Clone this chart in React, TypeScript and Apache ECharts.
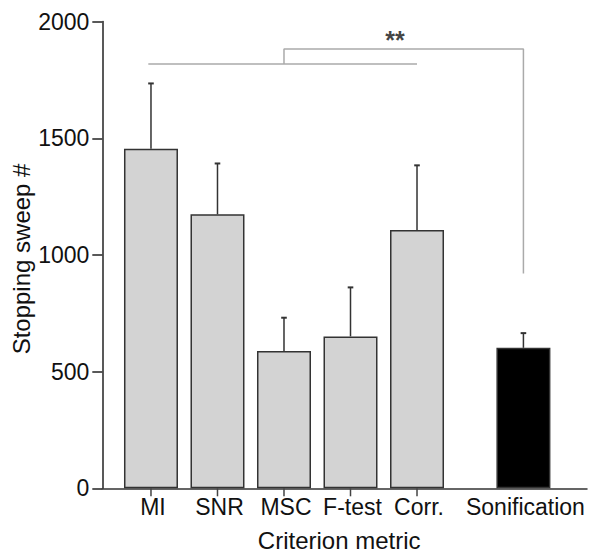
import React, { useEffect, useRef } from "react";
import * as echarts from "echarts";

const categories = ["MI", "SNR", "MSC", "F-test", "Corr.", "Sonification"];
const positions = [1, 2, 3, 4, 5, 6.6];
const showTick = [true, true, true, true, true, false];
const means = [1455, 1174, 588, 651, 1107, 602];
const upperErr = [1735, 1392, 731, 861, 1384, 665];
const barColors = ["#d3d3d3", "#d3d3d3", "#d3d3d3", "#d3d3d3", "#d3d3d3", "#000000"];
const yMin = 0;
const yMax = 2000;
const yInterval = 500;
const bracketLower = [[0.96, 1818], [5.0, 1818]];
const bracketUpper = [[3, 1818], [3, 1883], [6.6, 1883], [6.6, 921]];
const sigLabel = "**";
const sigPos = [4.67, 1922];

const FONT = "'Liberation Sans', Arial, Helvetica, sans-serif";

export default function App() {
  const ref = useRef<HTMLDivElement>(null);
  useEffect(() => {
    document.body.style.margin = "0";
    if (!ref.current) return;
    const chart = echarts.init(ref.current, null, { renderer: "svg" });
    const option: any = {
      animation: false,
      backgroundColor: "#ffffff",
      textStyle: { fontFamily: FONT },
      grid: {
        left: 102.3,
        right: 3,
        top: 21.6,
        bottom: 64.7,
        containLabel: false,
        outerBoundsMode: "none",
      },
      xAxis: {
        type: "value",
        min: 0.268,
        max: 7.556,
        name: "Criterion metric",
        nameLocation: "middle",
        nameGap: 40,
        nameMoveOverlap: false,
        nameTextStyle: { fontSize: 24, color: "#111", fontFamily: FONT, padding: [0, 11, 0, 0] },
        axisLine: { show: true, lineStyle: { color: "#333", width: 1.5 } },
        axisTick: { show: false },
        axisLabel: { show: false },
        splitLine: { show: false },
      },
      yAxis: {
        type: "value",
        min: yMin,
        max: yMax,
        interval: yInterval,
        name: "Stopping sweep #",
        nameLocation: "middle",
        nameGap: 69,
        nameMoveOverlap: false,
        nameTextStyle: { fontSize: 24, color: "#111", fontFamily: FONT, padding: [0, 8, 0, 0] },
        axisLine: { show: true, lineStyle: { color: "#222", width: 1.5 } },
        axisTick: { show: true, length: 10, lineStyle: { color: "#222", width: 1.5 } },
        axisLabel: {
          fontSize: 23,
          color: "#111",
          margin: 13,
          fontFamily: FONT,
          formatter: (v: number) => String(v),
        },
        splitLine: { show: false },
      },
      series: [
        {
          type: "bar",
          barWidth: 54,
          data: positions.map((p, i) => ({
            value: [p, means[i]],
            itemStyle: { color: barColors[i], borderColor: "#333", borderWidth: 1.5 },
          })),
          z: 2,
        },
        {
          type: "custom",
          z: 3,
          data: positions.map((p, i) => [p, means[i], upperErr[i]]),
          renderItem: (params: any, api: any) => {
            const x = api.value(0);
            const p0 = api.coord([x, api.value(1)]);
            const p1 = api.coord([x, api.value(2)]);
            return {
              type: "group",
              children: [
                {
                  type: "line",
                  shape: { x1: p0[0], y1: p0[1], x2: p1[0], y2: p1[1] },
                  style: { stroke: "#333", lineWidth: 1.5 },
                },
                {
                  type: "line",
                  shape: { x1: p1[0] - 2.8, y1: p1[1], x2: p1[0] + 2.8, y2: p1[1] },
                  style: { stroke: "#333", lineWidth: 2 },
                },
              ],
            };
          },
        },
        {
          type: "custom",
          z: 3,
          clip: false,
          data: positions.map((p, i) => [p, i]),
          renderItem: (params: any, api: any) => {
            const idx = api.value(1);
            const p = api.coord([api.value(0), 0]);
            const children: any[] = [];
            if (showTick[idx]) {
              children.push({
                type: "line",
                shape: { x1: p[0], y1: p[1], x2: p[0], y2: p[1] + 8 },
                style: { stroke: "#444", lineWidth: 1.5 },
              });
            }
            children.push({
              type: "text",
              style: {
                text: categories[idx],
                x: p[0] + 2,
                y: p[1] + 7,
                align: "center",
                verticalAlign: "top",
                fontSize: 23,
                fontFamily: FONT,
                fill: "#111",
              },
            });
            return { type: "group", children };
          },
        },
        {
          type: "line",
          data: bracketLower,
          symbol: "none",
          lineStyle: { color: "#aaaaaa", width: 1.5 },
          z: 1,
        },
        {
          type: "line",
          data: bracketUpper,
          symbol: "none",
          lineStyle: { color: "#aaaaaa", width: 1.5 },
          z: 1,
        },
        {
          type: "scatter",
          data: [sigPos],
          symbolSize: 0,
          label: {
            show: true,
            position: "inside",
            formatter: sigLabel,
            fontSize: 25,
            fontWeight: "bold",
            color: "#111",
            fontFamily: FONT,
          },
        },
      ],
    };
    chart.setOption(option);
    return () => chart.dispose();
  }, []);
  return <div ref={ref} style={{ width: 590, height: 553 }} />;
}
